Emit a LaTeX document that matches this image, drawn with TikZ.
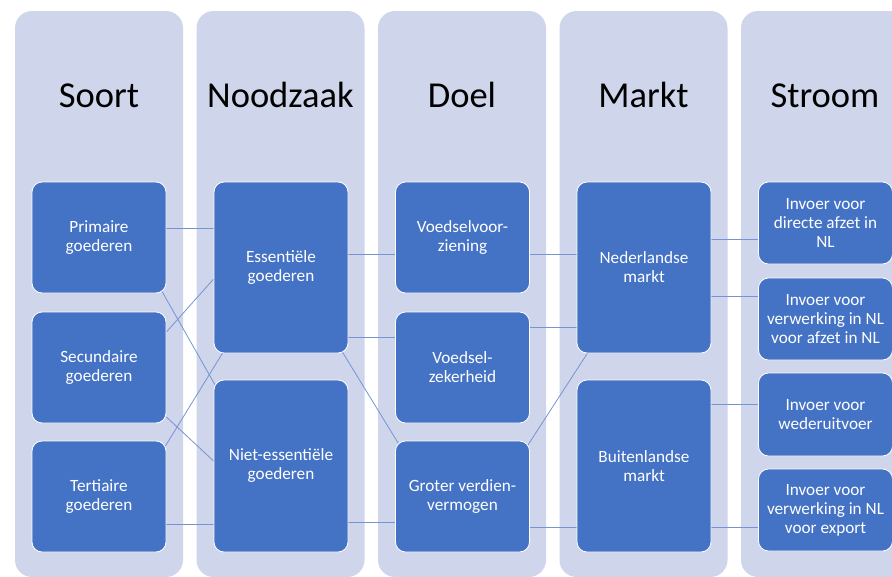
\documentclass[tikz,border=0pt]{standalone}
\usepackage{fontspec}
\setmainfont{Carlito}
\usetikzlibrary{positioning}
\definecolor{lane}{RGB}{207,213,234}
\definecolor{box}{RGB}{68,114,196}
\definecolor{linkblue}{RGB}{118,148,210}
\pgfdeclarelayer{lanes}
\pgfdeclarelayer{links}
\pgfsetlayers{lanes,links,main}
\tikzset{
  lanebox/.style={fill=lane, rounded corners=17pt},
  lanetitle/.style={font=\fontsize{36.5}{40}\selectfont, anchor=base},
  item/.style={draw=white, line width=0.8pt, fill=box, rounded corners=10pt,
    text=white, font=\fontsize{17.2}{19}\selectfont, align=center,
    minimum width=134pt, inner sep=0pt},
  small/.style={item, minimum height=111pt},
  tall/.style={item, minimum height=171pt},
  flow/.style={item, minimum height=82pt},
  link/.style={draw=linkblue, line width=0.8pt}
}

\begin{document}
\begin{tikzpicture}[x=1pt,y=-1pt]
    \useasboundingbox (0,0) rectangle (892,576);

    % Columns with titles
    \begin{pgfonlayer}{lanes}
    \foreach \x/\title in {15/Soort, 196.5/Noodzaak, 378/Doel, 559.5/Markt, 741/Stroom} {
      \fill[lanebox] (\x,11) rectangle ++(168,566);
      \node[lanetitle] at (\x+84,107) {\title};
    }
    \end{pgfonlayer}

    % Soort
    \node[small] (prim) at (99,237.5) {Primaire\\goederen};
    \node[small] (sec)  at (99,367.5) {Secundaire\\goederen};
    \node[small] (tert) at (99,496.5) {Tertiaire\\goederen};
    % Noodzaak
    \node[tall] (ess)  at (281,267.5) {Essentiële\\goederen};
    \node[tall, minimum height=172pt] (niet) at (281,466) {Niet-essentiële\\goederen};
    % Doel
    \node[small] (vz)  at (462.5,237.5) {Voedselvoor-\\ziening};
    \node[small] (vzk) at (462.5,367.5) {Voedsel-\\zekerheid};
    \node[small] (gv)  at (462.5,496.5) {Groter verdien-\\vermogen};
    % Markt
    \node[tall] (nl) at (644,267.5) {Nederlandse\\markt};
    \node[tall, minimum height=172pt] (bl) at (644,466) {Buitenlandse\\markt};
    % Stroom
    \node[flow] (direct)  at (825.5,223)   {Invoer voor\\directe afzet in\\NL};
    \node[flow] (verwnl)  at (825.5,319)   {Invoer voor\\verwerking in NL\\voor afzet in NL};
    \node[flow, minimum height=83pt] (weder) at (825.5,414.5) {Invoer voor\\wederuitvoer};
    \node[flow] (verwexp) at (825.5,510)   {Invoer voor\\verwerking in NL\\voor export};

    % Connectors, behind the boxes
    \begin{pgfonlayer}{links}
    % Soort -> Noodzaak
    \draw[link] ([yshift=9.5pt]prim.east) -- ([yshift=39.5pt]ess.west);
    \draw[link] ([xshift=-5pt,yshift=3pt]prim.south east) -- ([xshift=3pt,yshift=-8pt]niet.north west);
    \draw[link] ([yshift=35.5pt]sec.east) -- ([yshift=-11.5pt]ess.west);
    \draw[link] ([yshift=-49.5pt]sec.east) -- ([yshift=5pt]niet.west);
    \draw[link] ([xshift=-2pt,yshift=-7pt]tert.north east) -- ([xshift=10pt,yshift=2pt]ess.south west);
    \draw[link] ([yshift=-27.5pt]tert.east) -- ([yshift=-58pt]niet.west);
    % Noodzaak -> Doel
    \draw[link] ([yshift=13.5pt]ess.east) -- ([yshift=-16.5pt]vz.west);
    \draw[link] ([yshift=-69.5pt]ess.east) -- ([yshift=30.5pt]vzk.west);
    \draw[link] ([xshift=-7pt,yshift=3pt]ess.south east) -- ([xshift=4pt,yshift=-4pt]gv.north west);
    \draw[link] ([yshift=-56pt]niet.east) -- ([yshift=-25.5pt]gv.west);
    % Doel -> Markt
    \draw[link] ([yshift=-16.5pt]vz.east) -- ([yshift=13.5pt]nl.west);
    \draw[link] ([yshift=40.5pt]vzk.east) -- ([yshift=-59.5pt]nl.west);
    \draw[link] ([xshift=-3pt,yshift=-6pt]gv.north east) -- ([xshift=12pt,yshift=2pt]nl.south west);
    \draw[link] ([yshift=-30.5pt]gv.east) -- ([yshift=-61pt]bl.west);
    % Markt -> Stroom
    \draw[link] ([yshift=28.5pt]nl.east) -- ([yshift=-16pt]direct.west);
    \draw[link] ([yshift=-28.5pt]nl.east) -- ([yshift=23pt]verwnl.west);
    \draw[link] ([yshift=62pt]bl.east) -- ([yshift=10.5pt]weder.west);
    \draw[link] ([yshift=-61pt]bl.east) -- ([yshift=-17pt]verwexp.west);
    \end{pgfonlayer}
\end{tikzpicture}
\end{document}
